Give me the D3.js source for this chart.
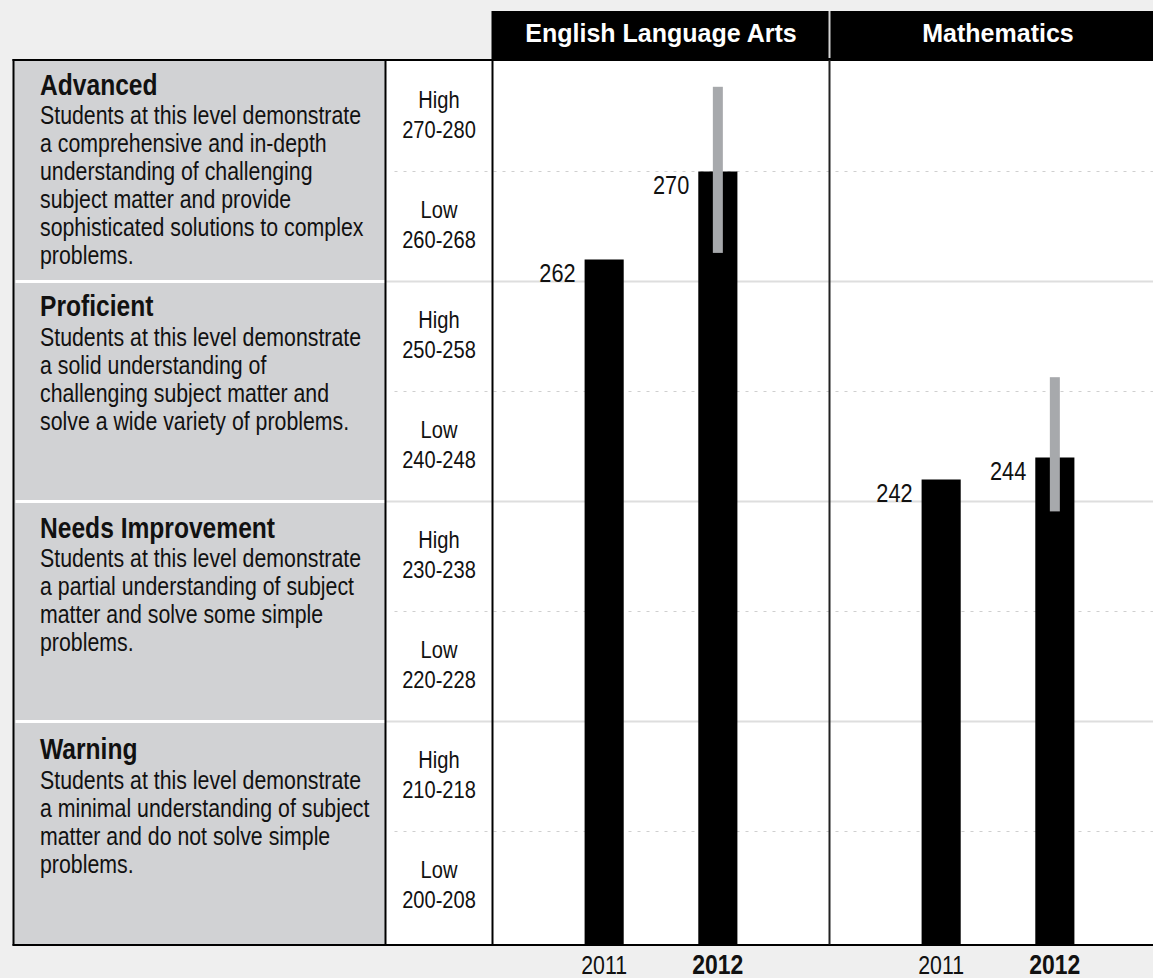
<!DOCTYPE html>
<html>
<head>
<meta charset="utf-8">
<script src="https://cdn.jsdelivr.net/npm/d3@7"></script>
<style>
  html, body { margin: 0; padding: 0; background: #efefef; }
  svg { display: block; }
</style>
</head>
<body>
<div id="chart"></div>
<script>
// chart data
var subjects = ["English Language Arts", "Mathematics"];
var years = ["2011", "2012"];
var elaScores = [262, 270];
var mathScores = [242, 244];
// confidence band on the 2012 score, per subject
var bandLow = [262.6, 239.1];
var bandHigh = [277.7, 251.3];

var levels = ["Advanced", "Proficient", "Needs Improvement", "Warning"];
var levelFloor = [260, 240, 220, 200];
var levelText = [
    ["Students at this level demonstrate", "a comprehensive and in-depth", "understanding of challenging",
     "subject matter and provide", "sophisticated solutions to complex", "problems."],
    ["Students at this level demonstrate", "a solid understanding of",
     "challenging subject matter and", "solve a wide variety of problems."],
    ["Students at this level demonstrate", "a partial understanding of subject",
     "matter and solve some simple", "problems."],
    ["Students at this level demonstrate", "a minimal understanding of subject",
     "matter and do not solve simple", "problems."]
];
var subNames = ["High", "Low", "High", "Low", "High", "Low", "High", "Low"];
var subRanges = ["270-280", "260-268", "250-258", "240-248", "230-238", "220-228", "210-218", "200-208"];
var subFloor = [270, 260, 250, 240, 230, 220, 210, 200];
var dottedTicks = [210, 230, 250, 270];
var solidTicks = [220, 240, 260];

var width = 1153, height = 978;

// pick a narrow font, or squeeze the regular one
function hasFont(name) {
    var c = document.createElement("canvas").getContext("2d");
    var s = "abcdefghijklmnopqrstuvwxyz0123456789";
    c.font = "40px monospace";
    var w0 = c.measureText(s).width;
    c.font = "40px '" + name + "', monospace";
    return c.measureText(s).width !== w0;
}
var narrowOk = hasFont("Liberation Sans Narrow");
var narrow = narrowOk ? "'Liberation Sans Narrow'" : "'Liberation Sans', Arial";
var squeeze = narrowOk ? 1 : 0.82;

var svg = d3.select("#chart").append("svg")
    .attr("width", width)
    .attr("height", height);

// set the scales
var y = d3.scaleLinear().domain([200, 280]).range([941.5, 61.5]);
var subjectX = d3.scaleBand().domain(subjects).range([492.5, 492.5 + 2 * 337]);
var yearX = d3.scaleBand().domain(years).range([0, subjectX.bandwidth()])
    .paddingInner(0.656).paddingOuter(0.81);

var frameLeft = 13.5, descRight = 385.5, scoreRight = 492.5;
var plotTop = y(280) - 1.5, plotBottom = y(200) + 3;

function addText(g, x, yy, str, opt) {
    var t = g.append("text")
        .attr("transform", "translate(" + x + "," + yy + ") scale(" + (opt.wide ? 1 : squeeze) + ",1)")
        .attr("text-anchor", opt.anchor || "start")
        .style("font-family", opt.font || narrow)
        .style("font-size", opt.size + "px")
        .style("font-weight", opt.bold ? "bold" : "normal")
        .style("fill", opt.color || "#111")
        .text(str);
    return t;
}

svg.append("rect").attr("width", width).attr("height", height).attr("fill", "#efefef");

// left description panel and white plot area
svg.append("rect").attr("x", frameLeft).attr("y", plotTop)
    .attr("width", descRight - frameLeft).attr("height", plotBottom - plotTop)
    .attr("fill", "#d1d2d4");
svg.append("rect").attr("x", descRight).attr("y", plotTop)
    .attr("width", width - descRight).attr("height", plotBottom - plotTop)
    .attr("fill", "#fff");

// grid lines
svg.selectAll(".dotted").data(dottedTicks).enter().append("line")
    .attr("x1", descRight + 9).attr("x2", width)
    .attr("y1", function (d) { return y(d); }).attr("y2", function (d) { return y(d); })
    .attr("stroke", "#cfcfcf").attr("stroke-width", 1.2).attr("stroke-dasharray", "3,6");
svg.selectAll(".solid").data(solidTicks).enter().append("line")
    .attr("x1", descRight).attr("x2", width)
    .attr("y1", function (d) { return y(d); }).attr("y2", function (d) { return y(d); })
    .attr("stroke", "#dedede").attr("stroke-width", 2);
svg.selectAll(".sep").data(solidTicks).enter().append("line")
    .attr("x1", frameLeft + 2).attr("x2", descRight)
    .attr("y1", function (d) { return y(d); }).attr("y2", function (d) { return y(d); })
    .attr("stroke", "#fff").attr("stroke-width", 3);

// level titles and descriptions
var textG = svg.append("g");
levels.forEach(function (name, i) {
    var t0 = y(levelFloor[i] + 20) + 33 + i * 1.5;
    addText(textG, 40, t0, name, { size: 30, bold: true });
    levelText[i].forEach(function (line, j) {
        addText(textG, 40, t0 + 29.5 + j * 28, line, { size: 26 });
    });
});

// score ranges
var scoreX = (descRight + scoreRight) / 2;
subNames.forEach(function (name, i) {
    var c = (y(subFloor[i]) + y(subFloor[i] + 10)) / 2;
    addText(textG, scoreX, c - 8.5, name, { size: 24.5, anchor: "middle" });
    addText(textG, scoreX, c + 21, subRanges[i], { size: 24.5, anchor: "middle" });
});

// bars
var scores = [elaScores, mathScores];
var plotG = svg.append("g");
subjects.forEach(function (s, si) {
    var g = plotG.append("g").attr("transform", "translate(" + subjectX(s) + ",0)");
    var data = years.map(function (yr, k) { return { year: yr, value: scores[si][k] }; });

    g.selectAll(".bar").data(data).enter().append("rect")
        .attr("x", function (d) { return yearX(d.year); })
        .attr("y", function (d) { return y(d.value); })
        .attr("width", yearX.bandwidth())
        .attr("height", function (d) { return plotBottom - 0.5 - y(d.value); })
        .attr("fill", "#000");

    // confidence band on the 2012 bar
    g.append("rect")
        .attr("x", yearX("2012") + yearX.bandwidth() / 2 - 5)
        .attr("y", y(bandHigh[si]))
        .attr("width", 10)
        .attr("height", y(bandLow[si]) - y(bandHigh[si]))
        .attr("fill", "#a7a9ac");

    data.forEach(function (d) {
        addText(g, yearX(d.year) - 9, y(d.value) + 22, d.value, { size: 26.5, anchor: "end" });
        var bold = d.year === "2012";
        addText(g, yearX(d.year) + yearX.bandwidth() / 2, 974, d.year,
            { size: bold ? 28 : 26, bold: bold, anchor: "middle" });
    });
});

// header band
svg.append("rect").attr("x", scoreRight).attr("y", 11)
    .attr("width", width - scoreRight).attr("height", plotTop - 11 + 1)
    .attr("fill", "#000");
svg.append("line")
    .attr("x1", subjectX(subjects[1])).attr("x2", subjectX(subjects[1]))
    .attr("y1", 11).attr("y2", plotTop - 2)
    .attr("stroke", "#d4d4d4").attr("stroke-width", 2);
subjects.forEach(function (s) {
    addText(svg, subjectX(s) + subjectX.bandwidth() / 2, 42, s,
        { size: 25, bold: true, anchor: "middle", color: "#fff", font: "'Liberation Sans', Arial", wide: true });
});

// frame lines
var frame = svg.append("g").attr("stroke", "#000").attr("stroke-width", 2);
frame.append("line").attr("x1", frameLeft - 1).attr("x2", scoreRight).attr("y1", plotTop).attr("y2", plotTop);
frame.append("line").attr("x1", frameLeft).attr("x2", frameLeft).attr("y1", plotTop - 1).attr("y2", plotBottom + 1);
frame.append("line").attr("x1", descRight).attr("x2", descRight).attr("y1", plotTop).attr("y2", plotBottom);
frame.append("line").attr("x1", scoreRight).attr("x2", scoreRight).attr("y1", 11).attr("y2", plotBottom);
frame.append("line").attr("x1", frameLeft - 1).attr("x2", width).attr("y1", plotBottom + 0.5).attr("y2", plotBottom + 0.5);
frame.append("line").attr("x1", subjectX(subjects[1])).attr("x2", subjectX(subjects[1]))
    .attr("y1", plotTop).attr("y2", plotBottom).attr("stroke", "#222");
</script>
</body>
</html>
